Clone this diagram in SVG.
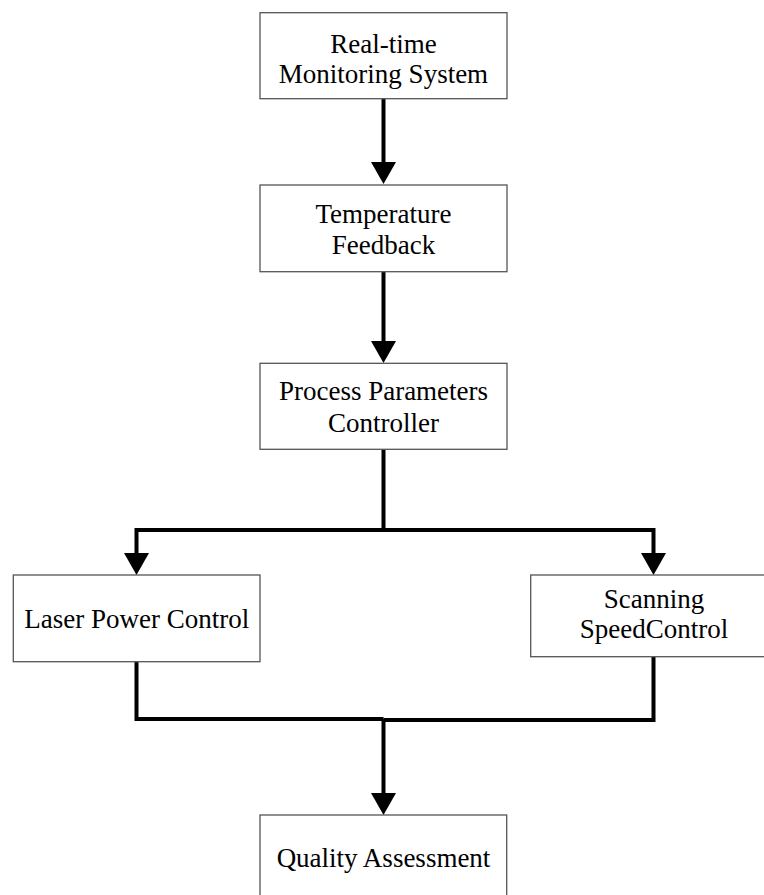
<svg xmlns="http://www.w3.org/2000/svg" width="764" height="895" viewBox="0 0 764 895">
<defs>
<style>
.box{fill:#fff;stroke:#555;stroke-width:1.3}
.t{font-family:"Liberation Serif","Times New Roman",serif;font-size:27px;fill:#000;text-anchor:middle}
.c{fill:none;stroke:#000;stroke-width:4;stroke-linejoin:miter}
</style>
<marker id="ah" viewBox="0 0 22 25" refX="1" refY="12.5" markerWidth="22" markerHeight="25" markerUnits="userSpaceOnUse" orient="auto">
<path d="M0,0 L22,12.5 L0,25 z" fill="#000"/>
</marker>
</defs>
<rect width="764" height="895" fill="#fff"/>
<g id="connectors">
<path class="c" d="M383.5,99 V163" marker-end="url(#ah)"/>
<path class="c" d="M383.5,272 V342" marker-end="url(#ah)"/>
<path class="c" d="M383.5,450 V530 H136.5 V554" marker-end="url(#ah)"/>
<path class="c" d="M383.5,530 H653.5 V554" marker-end="url(#ah)"/>
<path class="c" d="M136.5,662 V719 H383.5"/>
<path class="c" d="M653.5,657 V720 H383.5"/>
<path class="c" d="M383.5,719 V794" marker-end="url(#ah)"/>
</g>
<g id="n1">
<rect class="box" x="260" y="12.7" width="247" height="86"/>
<text class="t" x="383.5" y="53">Real-time</text>
<text class="t" x="383.5" y="82.5">Monitoring System</text>
</g>
<g id="n2">
<rect class="box" x="260" y="185" width="247" height="86.7"/>
<text class="t" x="383.5" y="222.5">Temperature</text>
<text class="t" x="383.5" y="254">Feedback</text>
</g>
<g id="n3">
<rect class="box" x="260" y="363.3" width="247" height="86"/>
<text class="t" x="383.5" y="399.5">Process Parameters</text>
<text class="t" x="383.5" y="432">Controller</text>
</g>
<g id="n4">
<rect class="box" x="13.3" y="575" width="246.7" height="86.7"/>
<text class="t" x="136.7" y="628">Laser Power Control</text>
</g>
<g id="n5">
<rect class="box" x="530.7" y="575" width="247" height="81.7"/>
<text class="t" x="654" y="608">Scanning</text>
<text class="t" x="654" y="638">SpeedControl</text>
</g>
<g id="n6">
<rect class="box" x="260" y="815" width="246.7" height="86"/>
<text class="t" x="383.5" y="867">Quality Assessment</text>
</g>
</svg>
